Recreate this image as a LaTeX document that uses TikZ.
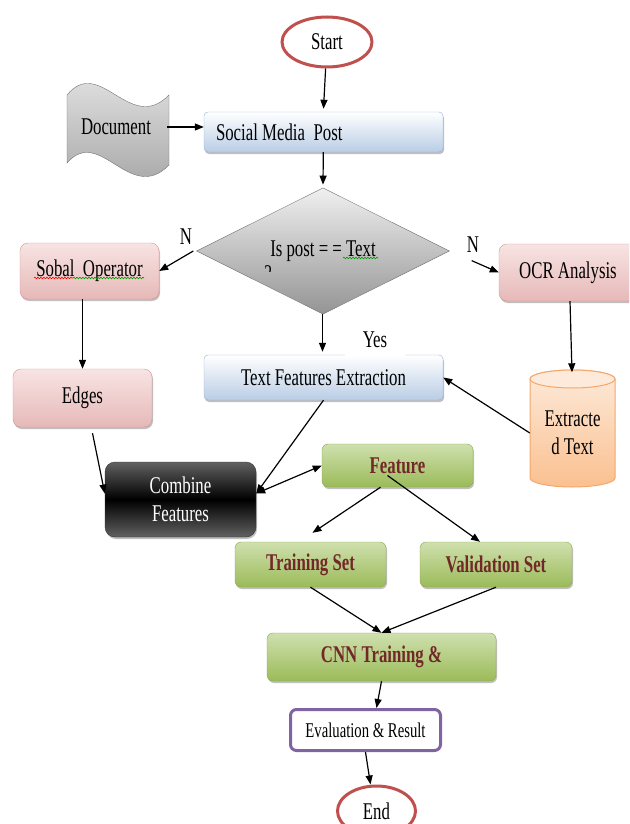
\documentclass[tikz,border=0pt]{standalone}
\usepackage{fontspec}
\setmainfont{Liberation Serif}[FakeStretch=0.7]
\usepackage{tikz}
\usetikzlibrary{positioning}
\usetikzlibrary{shapes.geometric,arrows.meta,shadows,decorations.pathmorphing}
\definecolor{termred}{HTML}{C0504D}
\definecolor{blueedge}{HTML}{95B3D7}
\definecolor{bluefill}{HTML}{B9CDE5}
\definecolor{pinkedge}{HTML}{D99694}
\definecolor{pinktop}{HTML}{F7E4E3}
\definecolor{pinkbottom}{HTML}{E6B9B8}
\definecolor{greentop}{HTML}{CFE0AE}
\definecolor{greenbottom}{HTML}{9BBB59}
\definecolor{greenedge}{HTML}{8AAA4C}
\definecolor{greentext}{HTML}{722828}
\definecolor{peachtop}{HTML}{FDEADA}
\definecolor{peachbottom}{HTML}{FAC090}
\definecolor{peachedge}{HTML}{F5A76A}
\definecolor{resultpurple}{HTML}{8064A2}

\begin{document}
\begin{tikzpicture}[x=1pt, y=-1pt,
        >={Triangle[length=9pt,width=7pt]},
        every node/.style = {font=\fontsize{24}{28}\selectfont, inner sep=0pt},
        softshadow/.style = {drop shadow={shadow xshift=1pt, shadow yshift=-2pt, fill=black, opacity=0.25}},
        terminal/.style = {ellipse, draw=termred, line width=3pt, fill=white, minimum width=90, minimum height=50},
        bluebox/.style = {rectangle, rounded corners=4pt, draw=blueedge, top color=white, bottom color=bluefill, softshadow},
        pinkbox/.style = {rectangle, rounded corners=8pt, draw=pinkedge, top color=pinktop, bottom color=pinkbottom, softshadow},
        greenbox/.style = {rectangle, rounded corners=6pt, draw=greenedge, top color=greentop, bottom color=greenbottom, text=greentext, font=\fontsize{24}{28}\selectfont\bfseries, softshadow},
        blackbox/.style = {rectangle, rounded corners=10pt, draw=black!80, top color=black!62, bottom color=black!62, middle color=black, text=white, align=center, softshadow},
        resultbox/.style = {rectangle, rounded corners=6pt, draw=resultpurple, line width=3pt, fill=white, font=\fontsize{21}{24}\selectfont},
        decision/.style = {diamond, draw=black!55, top color=black!6, bottom color=black!42},
        flowtext/.style = {fill=none},
        squiggle/.style = {line width=0.6pt, decorate, decoration={snake, amplitude=0.8pt, segment length=3pt}},
        flow/.style = {->, line width=1.2pt}
        ]
        \useasboundingbox (0,0) rectangle (629,824);
        \clip (0,0) rectangle (629,824);

        % document sheet
        \shade[top color=black!8, bottom color=black!38, draw=black!55]
          (67,95) .. controls (100,55) and (130,135) .. (169,95) -- (169,165)
          .. controls (130,205) and (100,125) .. (67,163) -- cycle;

        % extracted text store
        \shade[top color=peachtop, bottom color=peachbottom, draw=peachedge, line width=1pt]
          (530,379) -- (530,478) arc[start angle=180, end angle=0, x radius=42.5, y radius=9]
          -- (615,379) arc[start angle=0, end angle=-180, x radius=42.5, y radius=9] -- cycle;
        \draw[draw=peachedge, fill=peachtop, line width=1pt] (572.5,379) ellipse[x radius=42.5, y radius=9];

        \node (start) [terminal] at (327,42) {Start};
        \node (doc) [minimum width=102, minimum height=70] at (116,127) {Document};
        \node (smp) [bluebox, minimum width=239, minimum height=40] at (323.5,132) {\makebox[215pt][l]{Social Media\ \ Post}};
        \node (dec) [decision, minimum width=253, minimum height=94] at (323,251) {Is post = = Text};
        \node (sobal) [pinkbox, minimum width=139, minimum height=56] at (89.5,271) {Sobal\ \ Operator};
        \node (ocr) [pinkbox, minimum width=138, minimum height=57] at (568,272.5) {OCR Analysis};
        \node (edges) [pinkbox, minimum width=139, minimum height=58] at (82.5,398) {Edges};
        \node (tfe) [bluebox, minimum width=239, minimum height=45] at (323.5,377.5) {Text Features Extraction};
        \node (ext) [minimum width=85, minimum height=117, align=center] at (572.5,433) {Extracte\\d Text};
        \node (comb) [blackbox, minimum width=151, minimum height=75] at (180.5,499.5) {Combine\\Features};
        \node (feat) [greenbox, minimum width=151, minimum height=43] at (397.5,465.5) {Feature};
        \node (train) [greenbox, minimum width=151, minimum height=45] at (310.5,564.5) {Training Set};
        \node (valid) [greenbox, minimum width=152, minimum height=45] at (496,564.5) {Validation Set};
        \node (cnn) [greenbox, minimum width=229, minimum height=48] at (381.5,657) {CNN Training \&};
        \node (eval) [resultbox, minimum width=150, minimum height=41] at (365.5,730) {Evaluation \& Result};
        \node (end) [terminal, minimum width=78] at (376.5,811) {End};

        % cut second line of the question
        \begin{scope}
          \clip (250,262) rectangle (290,271);
          \node (qmark) [anchor=base] at (268,281) {?};
        \end{scope}

        % spelling marks
        \draw[squiggle, red] (34,278) -- (73,278);
        \draw[squiggle, green!60!black] (73,278) -- (144,278);
        \draw[squiggle, green!60!black] (343,258) -- (378,258);

        \node (nleft) [flowtext] at (186,237) {N};
        \node (nright) [flowtext] at (473,245) {N};
        \node (yes) [fill=white, minimum width=60, minimum height=32] at (375,340) {Yes};

        \draw[flow] (start) -- ([yshift=3pt]smp.north);
        \draw[flow] (doc.east) -- (doc.east -| smp.west);
        \draw[flow] (smp) -- ([yshift=3pt]dec.north);
        \draw[flow] ([xshift=-3pt]dec.west) -- (sobal.east);
        \draw[flow, shorten <=24pt] (dec.east) -- (ocr.west);
        \draw[flow, shorten >=3pt] ([xshift=-0.5pt]dec.south) -- ([xshift=-0.5pt]dec.south |- tfe.north);
        \draw[flow] (sobal.south -| edges.north) -- (edges.north);
        \draw[flow] (ocr.south -| 570,0) -- ([yshift=2pt]ext.north -| 572,0);
        \draw[flow] (ext.west) -- (tfe.east);
        \draw[flow] ([xshift=10pt,yshift=-6pt]edges.south) -- ([yshift=6pt]comb.west);
        \draw[flow] (tfe.south) -- ([yshift=6pt]comb.east);
        \draw[<->, line width=1.2pt] ([yshift=6pt]comb.east) -- (feat.west);
        \draw[flow] ([xshift=-17pt]feat.south) -- ([xshift=2pt,yshift=9pt]train.north);
        \draw[flow] ([xshift=-10pt,yshift=-10pt]feat.center) -- ([xshift=-16pt]valid.north);
        \draw[flow] (train.south) -- (cnn.north);
        \draw[flow] (valid.south) -- (cnn.north);
        \draw[flow] (cnn.south) -- ([xshift=11pt]eval.north);
        \draw[flow] (eval.south) -- ([xshift=-6pt]end.north);
\end{tikzpicture}
\end{document}
